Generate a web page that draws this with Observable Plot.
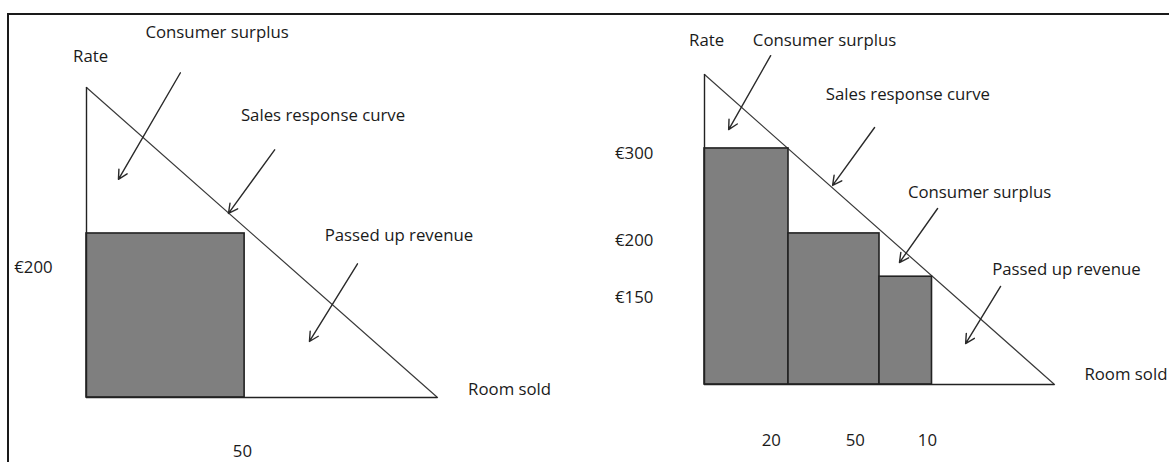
<!DOCTYPE html>
<html>
<head>
<meta charset="utf-8">
<script src="https://cdn.jsdelivr.net/npm/d3@7"></script>
<script src="https://cdn.jsdelivr.net/npm/@observablehq/plot@0.6"></script>
<style>
  html, body { margin: 0; padding: 0; background: #fff; }
  #wrap { position: relative; width: 1169px; height: 462px; overflow: hidden; background: #fff; }
  #frame { position: absolute; left: 7px; top: 13px; right: -10px; bottom: -10px;
           border-top: 2px solid #1a1a1a; border-left: 2px solid #1a1a1a; }
  #left, #right { position: absolute; top: 0; }
  #left { left: 0; }
  #right { left: 590px; }
  svg { overflow: visible; }
</style>
</head>
<body>
<div id="wrap">
  <div id="frame"></div>
  <div id="left"></div>
  <div id="right"></div>
</div>
<script>
// ---------- LEFT PANEL: single rate ----------
const leftCurveRooms = [0, 111];          // sales response curve end points (rooms)
const leftCurveRates = [378, 0];          // sales response curve end points (rate €)
const leftBarRooms0 = [0];
const leftBarRooms1 = [50];
const leftBarRates  = [200];
const leftLabelText  = ["Rate", "Consumer surplus", "Sales response curve", "€200", "Passed up revenue", "Room sold", "50"];
const leftLabelRooms = [1.3, 41.3, 74.8, -16.8, 98.8, 133.8, 49.3];
const leftLabelRates = [416, 445, 344, 158.5, 197.5, 9.8, -66.5];
const leftArrowRooms1 = [29.7, 59.5, 85.7];
const leftArrowRates1 = [396, 302, 163];
const leftArrowRooms2 = [10.1, 44.9, 70.5];
const leftArrowRates2 = [266, 224.5, 68.3];

// ---------- RIGHT PANEL: multiple rates ----------
const rightCurveRooms = [0, 100];
const rightCurveRates = [394, 0];
const rightBarRooms0 = [0, 24, 50];
const rightBarRooms1 = [24, 50, 65];
const rightBarRates  = [300, 192, 137];
const rightLabelText  = ["Rate", "Consumer surplus", "Sales response curve", "€300", "€200", "€150", "Consumer surplus", "Passed up revenue", "Room sold", "20", "50", "10"];
const rightLabelRooms = [0.6, 34.3, 58.1, -20.1, -20.1, -20.1, 78.6, 103.4, 120.4, 19.1, 43.1, 63.7];
const rightLabelRates = [437, 437, 368.6, 293.6, 183, 110.6, 244, 146.2, 12.7, -71.2, -71.2, -71.2];
const rightArrowRooms1 = [18.9, 48.6, 66.6, 84.6];
const rightArrowRates1 = [418, 326.6, 223.7, 124.6];
const rightArrowRooms2 = [6.9, 36.6, 55.7, 74.6];
const rightArrowRates2 = [324, 253, 155, 52];

const FONT = "'Open Sans', 'Noto Sans', sans-serif";
const INK = "#1a1a1a";

function panel({curveRooms, curveRates, bar0, bar1, barRates, labelText, labelRooms, labelRates,
                arrRooms1, arrRates1, arrRooms2, arrRates2, width, xDomain, xRange, yDomain, yRange}) {
  const curve = curveRooms.map((r, i) => ({rooms: r, rate: curveRates[i]}));
  const bars = bar0.map((r, i) => ({r0: r, r1: bar1[i], rate: barRates[i]}));
  const labels = labelText.map((t, i) => ({text: t, rooms: labelRooms[i], rate: labelRates[i]}));
  const arrows = arrRooms1.map((r, i) => ({x1: r, y1: arrRates1[i], x2: arrRooms2[i], y2: arrRates2[i]}));
  const maxRooms = curveRooms[1], maxRate = curveRates[0];
  return Plot.plot({
    width, height: 462,
    margin: 0,
    style: {background: "transparent", fontFamily: FONT, overflow: "visible"},
    x: {domain: xDomain, range: xRange, axis: null},
    y: {domain: yDomain, range: yRange, axis: null},
    marks: [
      Plot.line(curve, {x: "rooms", y: "rate", stroke: "#3a3a3a", strokeWidth: 1.2}),
      Plot.rectY(bars, {x1: "r0", x2: "r1", y1: 0, y2: "rate", fill: "#7f7f7f", stroke: "#222", strokeWidth: 1.6}),
      Plot.ruleX([0], {y1: 0, y2: maxRate, stroke: "#222", strokeWidth: 1.4}),
      Plot.ruleY([0], {x1: 0, x2: maxRooms, stroke: "#222", strokeWidth: 1.6}),
      Plot.arrow(arrows, {x1: "x1", y1: "y1", x2: "x2", y2: "y2", stroke: "#2a2a2a", strokeWidth: 1.4,
                          headLength: 11, headAngle: 55}),
      Plot.text(labels, {x: "rooms", y: "rate", text: "text", fill: INK, fontSize: 16.8,
                         textAnchor: "middle", lineAnchor: "middle"})
    ]
  });
}

document.getElementById("left").append(panel({
  curveRooms: leftCurveRooms, curveRates: leftCurveRates,
  bar0: leftBarRooms0, bar1: leftBarRooms1, barRates: leftBarRates,
  labelText: leftLabelText, labelRooms: leftLabelRooms, labelRates: leftLabelRates,
  arrRooms1: leftArrowRooms1, arrRates1: leftArrowRates1, arrRooms2: leftArrowRooms2, arrRates2: leftArrowRates2,
  width: 590, xDomain: [0, 111], xRange: [86, 437], yDomain: [0, 378], yRange: [397, 87]
}));

document.getElementById("right").append(panel({
  curveRooms: rightCurveRooms, curveRates: rightCurveRates,
  bar0: rightBarRooms0, bar1: rightBarRooms1, barRates: rightBarRates,
  labelText: rightLabelText, labelRooms: rightLabelRooms, labelRates: rightLabelRates,
  arrRooms1: rightArrowRooms1, arrRates1: rightArrowRates1, arrRooms2: rightArrowRooms2, arrRates2: rightArrowRates2,
  width: 579, xDomain: [0, 100], xRange: [114, 464], yDomain: [0, 394], yRange: [384, 74]
}));
</script>
</body>
</html>
